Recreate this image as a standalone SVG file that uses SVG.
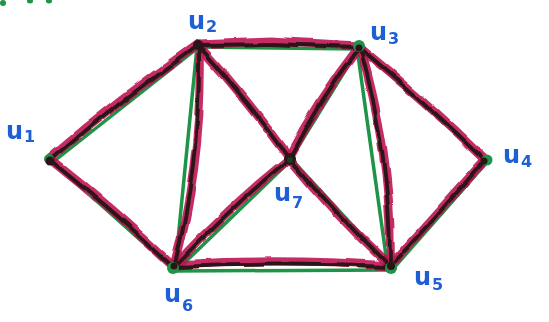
<svg xmlns="http://www.w3.org/2000/svg" width="549" height="322" viewBox="0 0 549 322">
  <style>
    .g { stroke: #1e9447; stroke-width: 3.5; fill: none; stroke-linecap: round; }
    .r { stroke: #bd1350; stroke-width: 9; fill: none; stroke-linecap: round; stroke-linejoin: round; opacity: 0.88; }
    .k { stroke: #2b1418; stroke-width: 3.8; fill: none; stroke-linecap: round; stroke-linejoin: round; }
    .lbl { font-family: "DejaVu Sans", "Liberation Sans", sans-serif; font-weight: bold; fill: #1e5fd6; }
    .u { font-size: 24px; }
    .s { font-size: 16px; }
    .dot { fill: #2b1418; }
    .gdot { fill: #1e9447; }
  </style>
  <defs>
    <filter id="wob" x="-10%" y="-10%" width="120%" height="120%">
      <feTurbulence type="fractalNoise" baseFrequency="0.035" numOctaves="1" seed="7" result="n"/>
      <feDisplacementMap in="SourceGraphic" in2="n" scale="7" xChannelSelector="R" yChannelSelector="G"/>
    </filter>
  </defs>
  <rect width="549" height="322" fill="#ffffff"/>
  <g id="fragment">
    <ellipse cx="3" cy="3" rx="3" ry="3" class="gdot"/>
    <ellipse cx="30" cy="1" rx="3" ry="2.5" class="gdot"/>
    <ellipse cx="49" cy="1" rx="3" ry="2.5" class="gdot"/>
  </g>
  <g id="connectors">
    <g id="green-lines">
      <line class="g" x1="53" y1="162" x2="199" y2="47"/>
      <line class="g" x1="53" y1="162" x2="175" y2="271"/>
      <line class="g" x1="199" y1="47" x2="359" y2="49"/>
      <line class="g" x1="197" y1="47" x2="175" y2="270"/>
      <line class="g" x1="199" y1="46" x2="292" y2="159"/>
      <line class="g" x1="292" y1="160" x2="392" y2="268"/>
      <line class="g" x1="359" y1="48" x2="290" y2="160"/>
      <line class="g" x1="290" y1="161" x2="176" y2="271"/>
      <line class="g" x1="359" y1="47" x2="487" y2="162"/>
      <line class="g" x1="357" y1="48" x2="388" y2="270"/>
      <line class="g" x1="487" y1="162" x2="392" y2="270"/>
      <line class="g" x1="175" y1="271" x2="390" y2="270"/>
    </g>
    <g id="red-lines" filter="url(#wob)">
      <path class="r" d="M51,158 Q118,100 198,44"/>
      <path class="r" d="M51,160 Q112,208 173,266"/>
      <path class="r" d="M198,44 L270,41 L359,46"/>
      <path class="r" d="M200,46 Q203,160 174,266"/>
      <path class="r" d="M199,46 Q248,100 290,158"/>
      <path class="r" d="M290,159 Q335,215 390,266"/>
      <path class="r" d="M359,47 Q318,100 288,158"/>
      <path class="r" d="M289,159 Q228,208 174,266"/>
      <path class="r" d="M359,47 Q425,100 485,159"/>
      <path class="r" d="M360,47 Q393,160 390,266"/>
      <path class="r" d="M485,160 Q440,210 390,266"/>
      <path class="r" d="M174,265 Q280,258 390,266"/>
    </g>
    <g id="black-lines" filter="url(#wob)">
      <path class="k" d="M51,160 Q118,102 198,45"/>
      <path class="k" d="M51,161 Q112,210 173,267"/>
      <path class="k" d="M198,45 L270,44 L359,47"/>
      <path class="k" d="M199,46 Q201,160 174,267"/>
      <path class="k" d="M199,46 Q248,101 290,159"/>
      <path class="k" d="M290,159 Q336,214 390,267"/>
      <path class="k" d="M359,47 Q318,101 289,159"/>
      <path class="k" d="M289,159 Q228,210 174,267"/>
      <path class="k" d="M359,47 Q424,101 485,160"/>
      <path class="k" d="M360,47 Q391,160 390,267"/>
      <path class="k" d="M485,160 Q440,212 390,267"/>
      <path class="k" d="M174,267 Q280,262 390,267"/>
    </g>
  </g>
  <g id="u1">
    <circle cx="49" cy="159" r="5" class="gdot"/>
    <circle cx="50" cy="161" r="4.5" class="dot"/>
    <text class="lbl" x="6" y="139"><tspan class="u">u</tspan><tspan class="s" dx="1" dy="3">1</tspan></text>
  </g>
  <g id="u2">
    <circle cx="198" cy="45" r="5" class="dot"/>
    <text class="lbl" x="188" y="29"><tspan class="u">u</tspan><tspan class="s" dx="1" dy="3">2</tspan></text>
  </g>
  <g id="u3">
    <circle cx="359" cy="46" r="6" class="gdot"/>
    <circle cx="359" cy="48" r="3.5" class="dot"/>
    <text class="lbl" x="370" y="40"><tspan class="u">u</tspan><tspan class="s" dx="1" dy="4">3</tspan></text>
  </g>
  <g id="u4">
    <circle cx="487" cy="160" r="5.5" class="gdot"/>
    <circle cx="484" cy="161" r="3.5" class="dot"/>
    <text class="lbl" x="503" y="163"><tspan class="u">u</tspan><tspan class="s" dx="1" dy="4">4</tspan></text>
  </g>
  <g id="u5">
    <circle cx="391" cy="268" r="6" class="gdot"/>
    <circle cx="391" cy="266" r="4" class="dot"/>
    <text class="lbl" x="414" y="285"><tspan class="u">u</tspan><tspan class="s" dx="1" dy="5">5</tspan></text>
  </g>
  <g id="u6">
    <circle cx="173" cy="268" r="6" class="gdot"/>
    <circle cx="174" cy="266" r="3.5" class="dot"/>
    <text class="lbl" x="164" y="302"><tspan class="u">u</tspan><tspan class="s" dx="1" dy="9">6</tspan></text>
  </g>
  <g id="u7">
    <circle cx="290" cy="159" r="6" class="dot"/>
    <circle cx="290" cy="160" r="3" fill="#1f3a22"/>
    <text class="lbl" x="274" y="201"><tspan class="u">u</tspan><tspan class="s" dx="1" dy="7">7</tspan></text>
  </g>
</svg>
